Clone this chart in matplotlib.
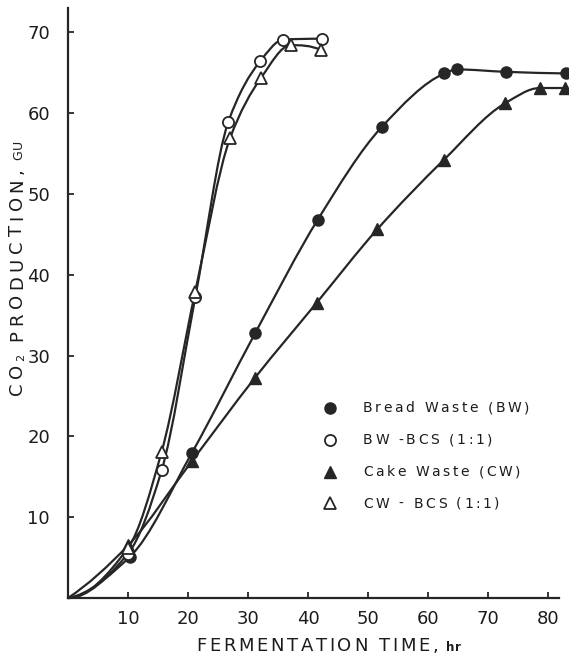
import numpy as np
import matplotlib
matplotlib.use('Agg')
import matplotlib.pyplot as plt
from matplotlib.path import Path
from matplotlib.patches import PathPatch
from matplotlib.lines import Line2D
from matplotlib.font_manager import FontProperties, findfont, get_font

plt.rcParams['font.family'] = ['DejaVu Sans']

# data (time in hr, CO2 production in GU)
bw_t = [0, 10.3, 20.6, 31.2, 41.6, 52.3, 62.7, 64.8, 73.0, 83.0]
bw_y = [0, 5.1, 17.9, 32.8, 46.8, 58.3, 64.9, 65.4, 65.1, 64.9]

bwbcs_t = [0, 10.0, 15.6, 21.2, 26.7, 32.0, 35.9, 42.3]
bwbcs_y = [0, 5.5, 15.8, 37.2, 58.9, 66.4, 69.1, 69.2]

cw_t = [0, 10.0, 20.6, 31.1, 41.4, 51.5, 62.6, 72.8, 78.6, 82.8]
cw_y = [0, 6.5, 16.9, 27.2, 36.5, 45.6, 54.2, 61.2, 63.1, 63.1]

cwbcs_t = [0, 10.0, 15.6, 21.2, 27.0, 32.2, 37.1, 42.1]
cwbcs_y = [0, 6.2, 18.1, 37.9, 56.9, 64.4, 68.4, 67.8]

labels = ['Bread Waste (BW)', 'BW -BCS (1:1)', 'Cake Waste (CW)', 'CW - BCS (1:1)']
x_ticks = [10, 20, 30, 40, 50, 60, 70, 80]
y_ticks = [10, 20, 30, 40, 50, 60, 70]

INK = '#262626'
TXT = '#1c1c1c'
W, H = 569, 664


def smooth_path(xs, ys):
    # monotone cubic (pchip) through the points, drawn as bezier segments
    x = np.asarray(xs, float)
    y = np.asarray(ys, float)
    h = np.diff(x)
    d = np.diff(y) / h
    n = len(x)
    m = np.zeros(n)
    for k in range(1, n - 1):
        if d[k - 1] * d[k] > 0:
            w1 = 2 * h[k] + h[k - 1]
            w2 = h[k] + 2 * h[k - 1]
            m[k] = (w1 + w2) / (w1 / d[k - 1] + w2 / d[k])
    for i, a, b in [(0, 0, 1), (n - 1, n - 2, n - 3)]:
        e = ((2 * h[a] + h[b]) * d[a] - h[a] * d[b]) / (h[a] + h[b])
        if np.sign(e) != np.sign(d[a]):
            e = 0
        elif np.sign(d[a]) != np.sign(d[b]) and abs(e) > 3 * abs(d[a]):
            e = 3 * d[a]
        m[i] = e
    verts = [(x[0], y[0])]
    codes = [Path.MOVETO]
    for k in range(n - 1):
        verts += [(x[k] + h[k] / 3, y[k] + m[k] * h[k] / 3),
                  (x[k + 1] - h[k] / 3, y[k + 1] - m[k + 1] * h[k] / 3),
                  (x[k + 1], y[k + 1])]
        codes += [Path.CURVE4] * 3
    return Path(verts, codes)


def spaced_text(fig, x, y, s, size, track, vertical=False, weight='normal',
                dy=0.0):
    # text with extra letter spacing; x, y in pixels from the top-left
    prop = FontProperties(family='DejaVu Sans', size=size, weight=weight)
    font = get_font(findfont(prop))
    font.set_size(size, fig.dpi)
    pos = 0.0
    for ch in s:
        if vertical:
            px, py = x + dy, y - pos
        else:
            px, py = x + pos, y + dy
        if ch != ' ':
            fig.text(px / W, 1 - py / H, ch, fontproperties=prop, color=TXT,
                     rotation=90 if vertical else 0, rotation_mode='anchor',
                     ha='left', va='baseline')
        pos += font.load_char(ord(ch)).linearHoriAdvance / 65536 + track
    return pos


fig = plt.figure(figsize=(W / 100, H / 100), dpi=100)
ax = fig.add_axes([68 / W, 66 / H, 491 / W, 590 / H])

series = [
    (bw_t, bw_y, dict(marker='o', ms=8, mfc=INK, mec=INK)),
    (bwbcs_t, bwbcs_y, dict(marker='o', ms=8, mfc='white', mec=INK, mew=1.3)),
    (cw_t, cw_y, dict(marker='^', ms=8.5, mfc=INK, mec=INK)),
    (cwbcs_t, cwbcs_y, dict(marker='^', ms=8.5, mfc='white', mec=INK, mew=1.3)),
]

for t, y, style in series:
    ax.add_patch(PathPatch(smooth_path(t, y), fill=False, ec=INK, lw=1.6,
                           clip_on=False, zorder=2))
for t, y, style in series:
    ax.plot(t[1:], y[1:], ls='none', clip_on=False, zorder=3, **style)

ax.set_xlim(0, 81.8)
ax.set_ylim(0, 73)
ax.spines['top'].set_visible(False)
ax.spines['right'].set_visible(False)
for s in ['left', 'bottom']:
    ax.spines[s].set_linewidth(1.6)
    ax.spines[s].set_color(INK)

ax.set_xticks(x_ticks)
ax.set_yticks(y_ticks)
ax.tick_params(direction='in', length=4, width=1.3, color=INK,
               labelsize=13, labelcolor=TXT)
ax.tick_params(axis='x', pad=9)
ax.tick_params(axis='y', pad=13)

# axis titles
end = spaced_text(fig, 196, 651, 'FERMENTATION TIME,', 13, 2.7)
spaced_text(fig, 196 + end + 5, 651, 'hr', 8.5, 1.0, weight='bold')

yb = 395
p = spaced_text(fig, 22, yb, 'CO', 13, 4.6, vertical=True)
p += spaced_text(fig, 22, yb - p + 2, '2', 8, 1.0, vertical=True, dy=2.5)
p += spaced_text(fig, 22, yb - p, ' PRODUCTION,', 13, 4.6, vertical=True)
spaced_text(fig, 22, yb - p - 3, 'GU', 9, 1.5, vertical=True)

# legend
row_y = [408, 440, 472, 503]
for (t, y, style), lab, ry in zip(series, labels, row_y):
    fig.add_artist(Line2D([330 / W], [1 - ry / H], ls='none',
                          transform=fig.transFigure, **style))
    spaced_text(fig, 363, ry + 4.5, lab, 10, 2.6)

fig.savefig('out.png', dpi=100)
